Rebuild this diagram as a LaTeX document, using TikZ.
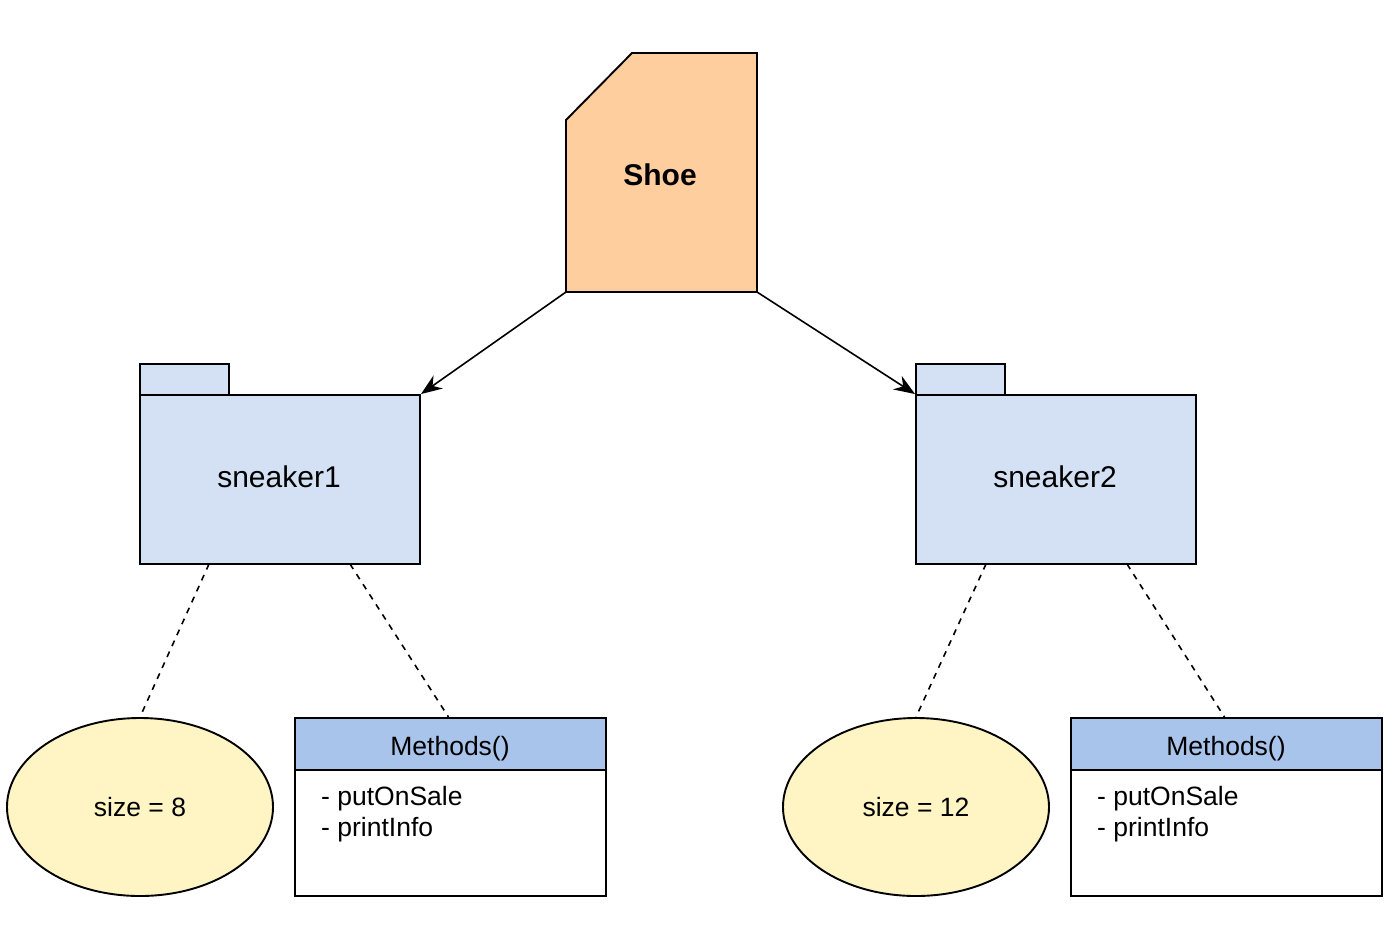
\documentclass[tikz,border=0pt]{standalone}
\usepackage{fontspec}
\setmainfont{Liberation Sans}
\usetikzlibrary{arrows.meta,shapes.geometric}
\definecolor{shoefill}{HTML}{FFCE9F}
\definecolor{pkgfill}{HTML}{D4E1F5}
\definecolor{attrfill}{HTML}{FFF4C3}
\definecolor{headfill}{HTML}{A9C4EB}
\tikzset{
  pkgbox/.style={draw=black, line width=1.9pt, fill=pkgfill, rectangle, inner sep=0pt},
  pkgtext/.style={inner sep=0pt, font=\fontsize{30}{34}\selectfont},
  attrell/.style={draw=black, line width=1.9pt, fill=attrfill, ellipse, inner sep=0pt,
    minimum width=266pt, minimum height=178pt, font=\fontsize{26.5}{30}\selectfont},
  headbox/.style={draw=black, line width=1.9pt, fill=headfill, rectangle, inner sep=0pt,
    minimum width=311pt, minimum height=52pt},
  headtext/.style={inner sep=0pt, font=\fontsize{26.5}{30}\selectfont},
  bodybox/.style={draw=black, line width=1.9pt, fill=white, rectangle, inner sep=0pt,
    minimum width=311pt, minimum height=126pt},
  itemtext/.style={anchor=base west, inner sep=0pt, font=\fontsize{26.5}{30}\selectfont},
  gen/.style={line width=1.6pt, -{Stealth[length=21pt,width=16pt]}},
  link/.style={line width=1.6pt, dash pattern=on 6pt off 6pt},
}
\begin{document}
\begin{tikzpicture}[x=1pt,y=-1pt]
\useasboundingbox (0,0) rectangle (1400,930);
% Shoe
\draw[line width=1.9pt, fill=shoefill, line join=miter]
  (632,53) -- (757,53) -- (757,292) -- (566,292) -- (566,120) -- cycle;
\coordinate (shoeBL) at (566,292);
\coordinate (shoeBR) at (757,292);
\node[font=\fontsize{30}{34}\selectfont\bfseries] (shoe) at (660,175) {Shoe};
% sneaker1
\node[pkgbox, minimum width=89pt, minimum height=31pt] (tab1) at (184.5,379.5) {};
\node[pkgbox, minimum width=280pt, minimum height=169pt] (s1) at (280,479.5) {};
\node[pkgtext] (s1t) at (279,476.5) {sneaker1};
% sneaker2
\node[pkgbox, minimum width=89pt, minimum height=31pt] (tab2) at (960.5,379.5) {};
\node[pkgbox, minimum width=280pt, minimum height=169pt] (s2) at (1056,479.5) {};
\node[pkgtext] (s2t) at (1055,476.5) {sneaker2};
% arrows
\draw[gen] (shoeBL) -- (s1.north east);
\draw[gen] (shoeBR) -- (s2.north west);
% attributes
\node[attrell] (a1) at (140,807) {size = 8};
\node[attrell] (a2) at (916,807) {size = 12};
% methods 1
\node[bodybox] (b1) at (450.5,833) {};
\node[headbox] (h1) at (450.5,744) {};
\node[headtext] (h1t) at (450,748.5) {Methods()};
\node[itemtext] (m1a) at (321,805) {- putOnSale};
\node[itemtext] (m1b) at (321,836) {- printInfo};
% methods 2
\node[bodybox] (b2) at (1226.5,833) {};
\node[headbox] (h2) at (1226.5,744) {};
\node[headtext] (h2t) at (1226,748.5) {Methods()};
\node[itemtext] (m2a) at (1097,805) {- putOnSale};
\node[itemtext] (m2b) at (1097,836) {- printInfo};
% dashed links
\coordinate (l1a) at (209,564);
\coordinate (l1b) at (350,564);
\coordinate (l2a) at (986,564);
\coordinate (l2b) at (1127,564);
\draw[link] (l1a) -- (a1.north);
\draw[link] (l1b) -- ([xshift=-2pt]h1.north);
\draw[link] (l2a) -- (a2.north);
\draw[link] (l2b) -- ([xshift=-2pt]h2.north);
\end{tikzpicture}
\end{document}
